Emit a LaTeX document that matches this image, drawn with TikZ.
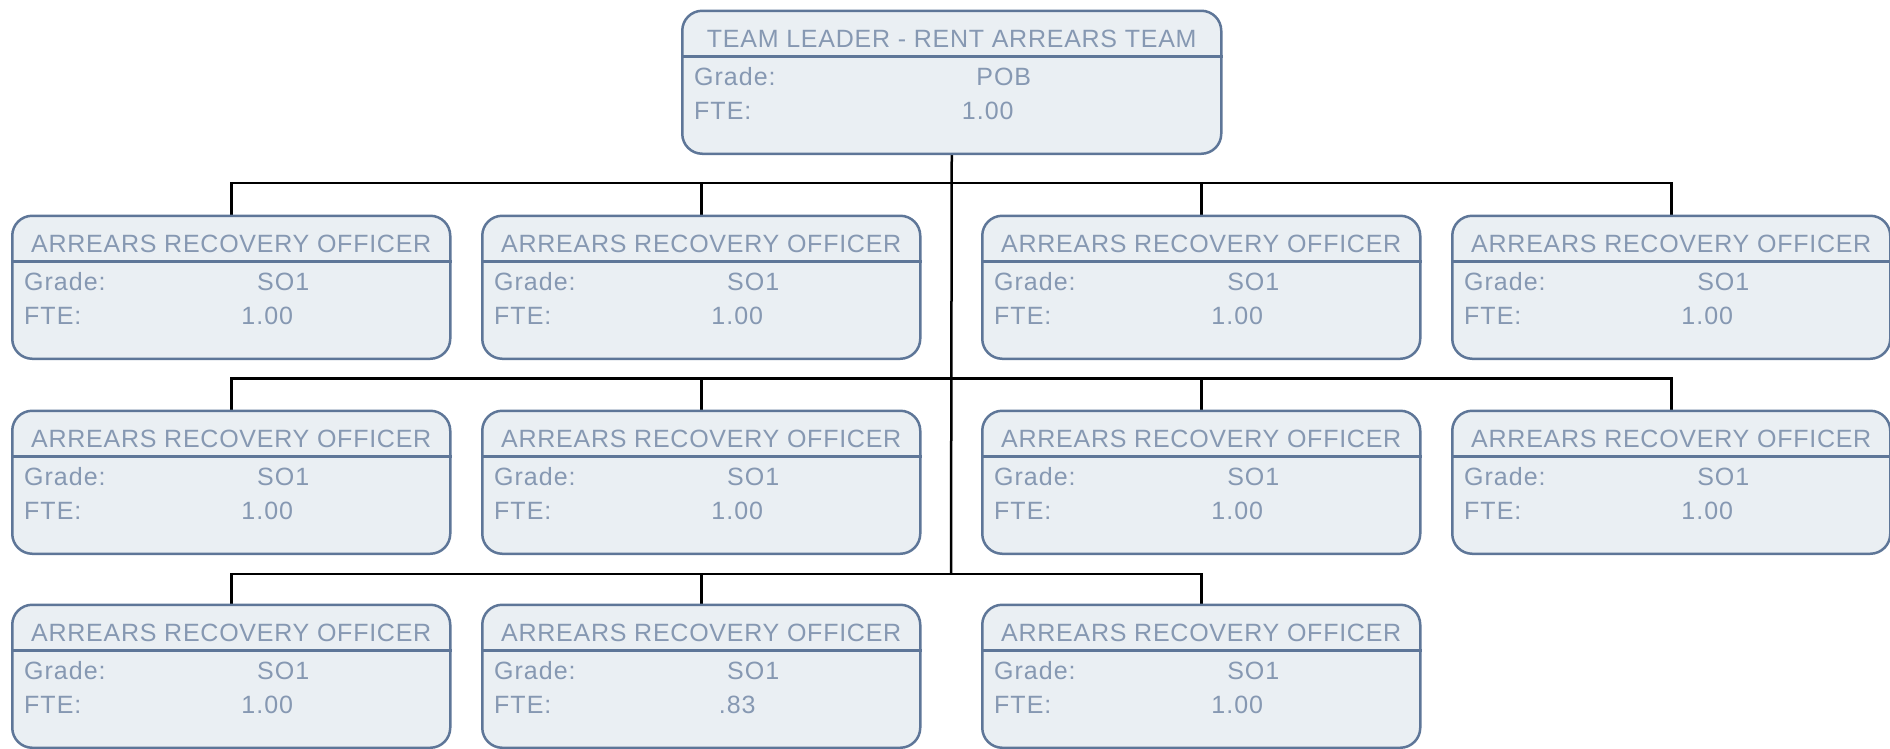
\documentclass[tikz,border=0pt]{standalone}
\usepackage{fontspec}
\setmainfont{Liberation Sans}
\definecolor{boxfill}{RGB}{234,239,243}
\definecolor{boxdraw}{RGB}{94,118,152}
\definecolor{textc}{RGB}{134,152,178}
\pgfdeclarelayer{bg}
\pgfsetlayers{bg,main}
\tikzset{
  orgbox/.style={draw=boxdraw, fill=boxfill, line width=2.5pt, rounded corners=20pt,
    minimum height=143pt, inner sep=0pt, anchor=north west},
  sepline/.style={draw=boxdraw, line width=2.5pt},
  hdr/.style={text=textc, inner sep=0pt, font=\fontsize{25}{30}\selectfont\addfontfeatures{LetterSpace=3}},
  txt/.style={text=textc, inner sep=0pt, font=\fontsize{25}{30}\selectfont\addfontfeatures{LetterSpace=4}},
  conn/.style={draw=black, line width=2.5pt}
}
\newcommand\orgunit[7]{%
  \node[orgbox, minimum width=#4] (#1) at (#2,#3) {};
  \draw[sepline] ([yshift=-47pt]#1.north west) -- ([yshift=-47pt]#1.north east);
  \node[hdr, anchor=base] (#1-title) at ([yshift=-38pt]#1.north) {#5};
  \node[txt, anchor=base west] (#1-gl) at ([xshift=13pt,yshift=-76pt]#1.north west) {Grade:};
  \node[txt, anchor=base] (#1-gv) at ([xshift=52pt,yshift=-76pt]#1.north) {#6};
  \node[txt, anchor=base west] (#1-fl) at ([xshift=13pt,yshift=-110pt]#1.north west) {FTE:};
  \node[txt, anchor=base] (#1-fv) at ([xshift=36pt,yshift=-110pt]#1.north) {#7};
}
\begin{document}
\begin{tikzpicture}[x=1pt,y=-1pt]
\useasboundingbox (0,0) rectangle (1890,748);
\orgunit{top}{681}{9.5}{539pt}{TEAM LEADER - RENT ARREARS TEAM}{POB}{1.00}
\orgunit{a1}{11}{214.5}{438pt}{ARREARS RECOVERY OFFICER}{SO1}{1.00}
\orgunit{a2}{481}{214.5}{438pt}{ARREARS RECOVERY OFFICER}{SO1}{1.00}
\orgunit{a3}{981}{214.5}{438pt}{ARREARS RECOVERY OFFICER}{SO1}{1.00}
\orgunit{a4}{1451}{214.5}{438pt}{ARREARS RECOVERY OFFICER}{SO1}{1.00}
\orgunit{b1}{11}{409.5}{438pt}{ARREARS RECOVERY OFFICER}{SO1}{1.00}
\orgunit{b2}{481}{409.5}{438pt}{ARREARS RECOVERY OFFICER}{SO1}{1.00}
\orgunit{b3}{981}{409.5}{438pt}{ARREARS RECOVERY OFFICER}{SO1}{1.00}
\orgunit{b4}{1451}{409.5}{438pt}{ARREARS RECOVERY OFFICER}{SO1}{1.00}
\orgunit{c1}{11}{603.5}{438pt}{ARREARS RECOVERY OFFICER}{SO1}{1.00}
\orgunit{c2}{481}{603.5}{438pt}{ARREARS RECOVERY OFFICER}{SO1}{.83}
\orgunit{c3}{981}{603.5}{438pt}{ARREARS RECOVERY OFFICER}{SO1}{1.00}
\coordinate (j1) at (951,183);
\coordinate (j2) at (951,378.5);
\coordinate (j3) at (951,574);
\begin{pgfonlayer}{bg}
  \draw[conn] (top.south) -- (j3);
  \draw[conn] (a1.north) |- (j1);
  \draw[conn] (a2.north) |- (j1);
  \draw[conn] (a3.north) |- (j1);
  \draw[conn] (a4.north) |- (j1);
  \draw[conn] (b1.north) |- (j2);
  \draw[conn] (b2.north) |- (j2);
  \draw[conn] (b3.north) |- (j2);
  \draw[conn] (b4.north) |- (j2);
  \draw[conn] (c1.north) |- (j3);
  \draw[conn] (c2.north) |- (j3);
  \draw[conn] (c3.north) |- (j3);
\end{pgfonlayer}
\end{tikzpicture}
\end{document}
